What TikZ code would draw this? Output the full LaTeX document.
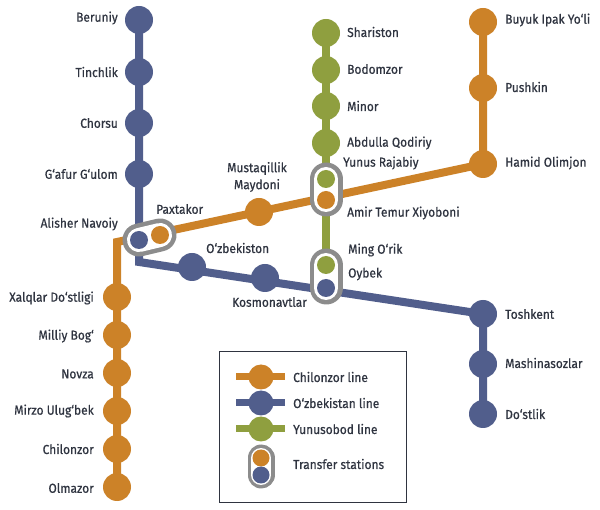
\documentclass[tikz,border=0pt]{standalone}
\usepackage{fontspec}
\usetikzlibrary{backgrounds}
\setmainfont[FakeStretch=0.92,FakeBold=0.6]{Fira Sans}
\definecolor{orangeline}{HTML}{CC8228}
\definecolor{blueline}{HTML}{515E8C}
\definecolor{greenline}{HTML}{8F9F3F}
\definecolor{ringgray}{HTML}{8C8C8C}
\definecolor{labelink}{HTML}{2F3440}
\tikzset{
  x=1pt,y=-1pt,
  station/.style={circle,minimum size=28pt,inner sep=0pt,fill=#1},
  small/.style={circle,minimum size=18pt,inner sep=0pt,fill=#1},
  keydot/.style={circle,minimum size=25pt,inner sep=0pt,fill=#1},
  keysmall/.style={circle,minimum size=17pt,inner sep=0pt,fill=#1},
  track/.style={line width=8pt,draw=#1},
  rl/.style={anchor=east,inner sep=0pt,text=labelink,font=\fontsize{13}{15}\selectfont},
  ll/.style={anchor=west,inner sep=0pt,text=labelink,font=\fontsize{13}{15}\selectfont},
  cl/.style={anchor=center,inner sep=0pt,align=center,text=labelink,font=\fontsize{13}{17}\selectfont},
}
\begin{document}
\begin{tikzpicture}
\useasboundingbox (0,0) rectangle (600,510);
% stations
\foreach \n/\x/\y in {ber/139/20,tin/139/72,cho/139/123,gaf/139/174,uzb/192/267,kos/265/278,tos/483/314,mas/483/364,dos/483/414}
  \node[station=blueline] (\n) at (\x,\y) {};
\foreach \n/\x/\y in {buy/483/22,pus/483/88,ham/483/164,mus/259/212,xal/117/297,mil/117/335,nov/117/373,mir/117/411,chi/117/449,olm/117/487}
  \node[station=orangeline] (\n) at (\x,\y) {};
\foreach \n/\x/\y in {sha/326/33,bod/326/70,min/326/106,abd/326/143}
  \node[station=greenline] (\n) at (\x,\y) {};
\coordinate (bendb) at (139,262);
\coordinate (bendo) at (117,242);
\coordinate (nav) at (139,240);
\coordinate (pax) at (160,235);
\coordinate (yun) at (326,179);
\coordinate (ami) at (326,200);
\coordinate (min2) at (326,265);
\coordinate (oyb) at (326,288);
% connectors, behind the stations
\begin{scope}[on background layer]
\fill[white] (0,0) rectangle (600,510);
\draw[track=blueline] (ber.center) -- (bendb) -- (tos.center) -- (dos.center);
\draw[track=orangeline] (olm.center) -- (bendo) -- (ham.center) -- (buy.center);
\draw[track=greenline] (sha.center) -- (oyb);
\end{scope}
% transfer capsules
\foreach \a/\b in {nav/pax,yun/ami,min2/oyb}{
  \draw[line width=33pt,line cap=round,draw=ringgray] (\a) -- (\b);
  \draw[line width=24pt,line cap=round,draw=white] (\a) -- (\b);
}
\node[small=blueline] (navs) at (nav) {};
\node[small=orangeline] (paxs) at (pax) {};
\node[small=greenline] (yuns) at (yun) {};
\node[small=orangeline] (amis) at (ami) {};
\node[small=greenline] (mins) at (min2) {};
\node[small=blueline] (oybs) at (oyb) {};
% labels
\node[rl] at (118,18) {Beruniy};
\node[rl] at (118,72) {Tinchlik};
\node[rl] at (118,123) {Chorsu};
\node[rl] at (118,174) {G‘afur G‘ulom};
\node[rl] at (118,224) {Alisher Navoiy};
\node[ll] at (156,209) {Paxtakor};
\node[cl] at (257,177) {Mustaqillik\\Maydoni};
\node[ll] at (206,248) {O‘zbekiston};
\node[ll] at (232,302) {Kosmonavtlar};
\node[ll] at (347,32) {Shariston};
\node[ll] at (347,69) {Bodomzor};
\node[ll] at (347,106) {Minor};
\node[ll] at (347,143) {Abdulla Qodiriy};
\node[ll] at (343,163) {Yunus Rajabiy};
\node[ll] at (347,213) {Amir Temur Xiyoboni};
\node[ll] at (348,250) {Ming O‘rik};
\node[ll] at (348,274) {Oybek};
\node[ll] at (505,20) {Buyuk Ipak Yo‘li};
\node[ll] at (505,87) {Pushkin};
\node[ll] at (505,163) {Hamid Olimjon};
\node[ll] at (505,314) {Toshkent};
\node[ll] at (505,363) {Mashinasozlar};
\node[ll] at (505,414) {Do‘stlik};
\node[rl] at (94,298) {Xalqlar Do‘stligi};
\node[rl] at (94,336) {Milliy Bog‘};
\node[rl] at (94,374) {Novza};
\node[rl] at (94,411) {Mirzo Ulug‘bek};
\node[rl] at (94,449) {Chilonzor};
\node[rl] at (94,488) {Olmazor};
% legend
\draw[line width=0.8pt,draw=labelink] (219,351) rectangle (406,502);
\foreach \n/\c/\y/\t in {ka/orangeline/377/Chilonzor line,kb/blueline/403/O‘zbekistan line,kc/greenline/429/Yunusobod line}{
  \coordinate (\n l) at (236,\y);
  \coordinate (\n r) at (285,\y);
  \draw[line width=7pt,draw=\c] (\n l) -- (\n r);
  \node[keydot=\c] (\n) at (261,\y) {};
  \node[ll] at (293,\y) {\t};
}
\coordinate (kt1) at (261,458);
\coordinate (kt2) at (261,475);
\draw[line width=27pt,line cap=round,draw=ringgray] (kt1) -- (kt2);
\draw[line width=20pt,line cap=round,draw=white] (kt1) -- (kt2);
\node[keysmall=orangeline] (kto) at (kt1) {};
\node[keysmall=blueline] (ktb) at (kt2) {};
\node[ll] at (293,464) {Transfer stations};
\end{tikzpicture}
\end{document}
